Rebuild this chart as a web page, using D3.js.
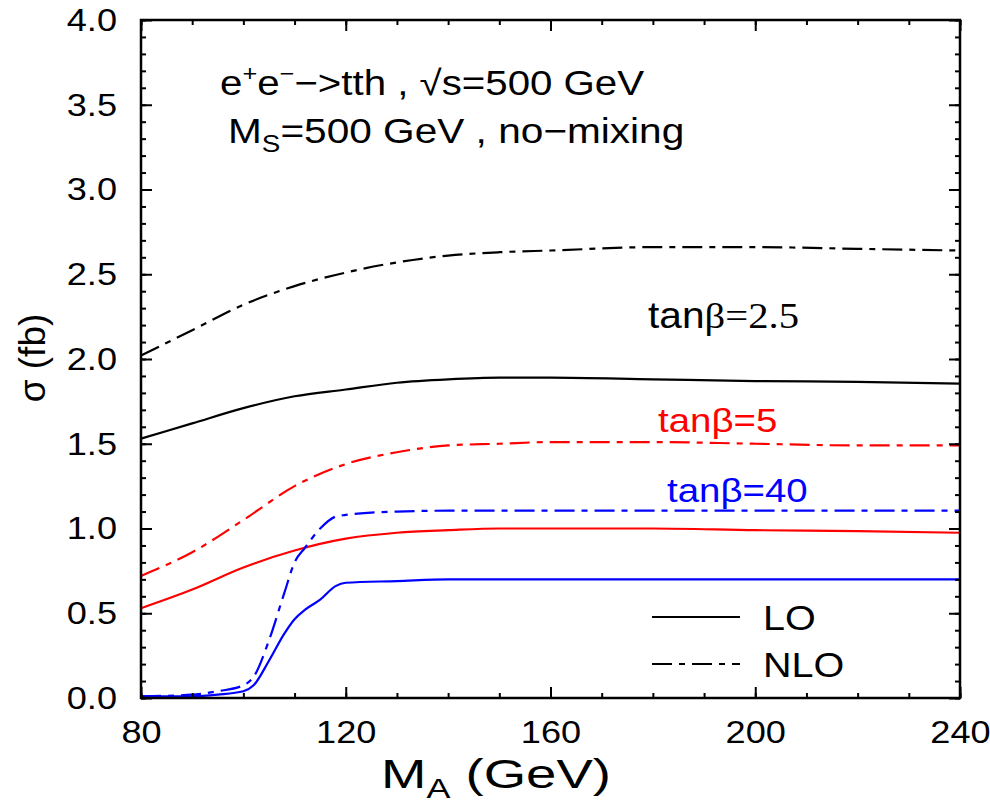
<!DOCTYPE html>
<html>
<head>
<meta charset="utf-8">
<script src="https://cdnjs.cloudflare.com/ajax/libs/d3/7.8.5/d3.min.js"></script>
<style>
    html, body { margin: 0; padding: 0; background: #fff; }
    svg text { font-family: "Liberation Sans", Arial, sans-serif; }
</style>
</head>
<body>
<div id="chart" style="width:990px;height:804px"></div>
<script>
// M_A grid (GeV) for tanb = 2.5 and 5
const massA = [80, 90, 100, 110, 120, 130, 140, 150, 160, 180, 200, 220, 240];
const tb25LO = [1.53, 1.62, 1.71, 1.78, 1.82, 1.86, 1.88, 1.89, 1.89, 1.88, 1.87, 1.865, 1.855];
const tb25NLO = [2.02, 2.17, 2.32, 2.43, 2.51, 2.57, 2.61, 2.63, 2.64, 2.66, 2.66, 2.65, 2.64];
const tb5LO = [0.53, 0.64, 0.77, 0.87, 0.94, 0.975, 0.99, 1.0, 1.0, 1.0, 0.99, 0.985, 0.975];
const tb5NLO = [0.72, 0.86, 1.05, 1.25, 1.38, 1.45, 1.49, 1.5, 1.51, 1.51, 1.5, 1.49, 1.49];

// tanb = 40 needs a finer grid around the threshold
const massA40 = [80, 90, 95, 100, 102, 105, 108, 110, 112, 115, 118, 120, 130, 140, 160, 200, 240];
const tb40LO = [0.01, 0.01, 0.02, 0.04, 0.075, 0.22, 0.38, 0.465, 0.52, 0.58, 0.66, 0.68, 0.69, 0.7, 0.7, 0.7, 0.7];
const tb40NLO = [0.01, 0.02, 0.04, 0.075, 0.125, 0.34, 0.62, 0.8, 0.885, 1.0, 1.07, 1.08, 1.1, 1.105, 1.105, 1.105, 1.105];

const xMajorTicks = [80, 120, 160, 200, 240];
const yMajorTicks = [0, 0.5, 1, 1.5, 2, 2.5, 3, 3.5, 4];

const series = [
    { x: massA, y: tb25LO, color: "#000", dash: null },
    { x: massA, y: tb25NLO, color: "#000", dash: "20,7,6,7" },
    { x: massA, y: tb5LO, color: "#ff0000", dash: null },
    { x: massA, y: tb5NLO, color: "#ff0000", dash: "20,7,6,7" },
    { x: massA40, y: tb40LO, color: "#0000ff", dash: null },
    { x: massA40, y: tb40NLO, color: "#0000ff", dash: "20,7,6,7" }
];

const margin = { left: 141, top: 20 },
    width = 819,
    height = 678,
    stretch = 1.13;

let svg = d3.select("#chart")
    .append("svg")
    .attr("width", 990)
    .attr("height", 804);

let g = svg.append("g")
    .attr("transform", `translate(${margin.left},${margin.top})`);

let x = d3.scaleLinear().domain([80, 240]).range([0, width]);
let y = d3.scaleLinear().domain([0, 4]).range([height, 0]);

// curves
let line = d3.line()
    .x(d => x(d[0]))
    .y(d => y(d[1]))
    .curve(d3.curveMonotoneX);

series.forEach(s => {
    g.append("path")
        .datum(s.x.map((v, i) => [v, s.y[i]]))
        .attr("d", line)
        .attr("fill", "none")
        .attr("stroke", s.color)
        .attr("stroke-width", 2.2)
        .attr("stroke-dasharray", s.dash);
});

// axes: ticks point inward on all four sides
function styleAxis(sel) {
    sel.select(".domain").remove();
    sel.selectAll("line").attr("stroke", "#000").attr("stroke-width", 2);
}

let xMinor = d3.range(80, 241, 10);
let yMinor = d3.range(0, 4.001, 0.1);

g.append("g").attr("transform", `translate(0,${height})`)
    .call(d3.axisBottom(x).tickValues(xMinor).tickSize(-5).tickFormat(""))
    .call(styleAxis);
g.append("g")
    .call(d3.axisTop(x).tickValues(xMinor).tickSize(-5).tickFormat(""))
    .call(styleAxis);
g.append("g")
    .call(d3.axisLeft(y).tickValues(yMinor).tickSize(-5).tickFormat(""))
    .call(styleAxis);
g.append("g").attr("transform", `translate(${width},0)`)
    .call(d3.axisRight(y).tickValues(yMinor).tickSize(-5).tickFormat(""))
    .call(styleAxis);

let xAxis = g.append("g").attr("transform", `translate(0,${height})`)
    .call(d3.axisBottom(x).tickValues(xMajorTicks).tickSize(-11).tickPadding(22).tickFormat(d3.format("d")))
    .call(styleAxis);
g.append("g")
    .call(d3.axisTop(x).tickValues(xMajorTicks).tickSize(-11).tickFormat(""))
    .call(styleAxis);
let yAxis = g.append("g")
    .call(d3.axisLeft(y).tickValues(yMajorTicks).tickSize(-11).tickPadding(24).tickFormat(d3.format(".1f")))
    .call(styleAxis);
g.append("g").attr("transform", `translate(${width},0)`)
    .call(d3.axisRight(y).tickValues(yMajorTicks).tickSize(-11).tickFormat(""))
    .call(styleAxis);

[xAxis, yAxis].forEach(a => {
    a.selectAll("text")
        .attr("font-size", 32)
        .attr("font-family", "Liberation Sans, Arial, sans-serif")
        .attr("fill", "#000")
        .attr("x", function () { return (+d3.select(this).attr("x") || 0) / stretch; })
        .attr("transform", `scale(${stretch},1)`);
});

// frame
g.append("rect")
    .attr("width", width)
    .attr("height", height)
    .attr("fill", "none")
    .attr("stroke", "#000")
    .attr("stroke-width", 2.5);

// text helper: horizontally stretched text at (px, py)
function label(px, py, size, color, sx) {
    return svg.append("text")
        .attr("transform", `translate(${px},${py}) scale(${sx || stretch},1)`)
        .attr("font-size", size)
        .attr("fill", color || "#000");
}

let t1 = label(220, 95, 35, "#000", 1.15);
t1.append("tspan").text("e");
t1.append("tspan").attr("dy", -14).attr("font-size", 22).text("+");
t1.append("tspan").attr("dy", 14).text("e");
t1.append("tspan").attr("dy", -14).attr("font-size", 22).text("\u2212");
t1.append("tspan").attr("dy", 14).text("\u2212>tth , \u221As=500 GeV");

let t2 = label(228, 143, 35, "#000", 1.16);
t2.append("tspan").text("M");
t2.append("tspan").attr("dy", 9).attr("font-size", 24).text("S");
t2.append("tspan").attr("dy", -9).text("=500 GeV , no\u2212mixing");

let t3 = label(648, 328, 36, "#000");
t3.append("tspan").text("tan");
t3.append("tspan").attr("font-family", "Liberation Serif, Times New Roman, serif").text("\u03B2=2.5");

label(658, 432, 34, "#ff0000").text("tan\u03B2=5");
label(667, 502, 34, "#0000ff").text("tan\u03B2=40");

// legend
const legendItems = [
    { name: "LO", dash: null, y: 617 },
    { name: "NLO", dash: "20,7,6,7", y: 664 }
];
legendItems.forEach(it => {
    svg.append("line")
        .attr("x1", 652).attr("x2", 740)
        .attr("y1", it.y).attr("y2", it.y)
        .attr("stroke", "#000")
        .attr("stroke-width", 2.2)
        .attr("stroke-dasharray", it.dash);
    label(763, it.y + 13, 35).text(it.name);
});

// axis titles
let xt = label(381, 788, 41, "#000", 1.33);
xt.append("tspan").text("M");
xt.append("tspan").attr("dy", 10).attr("font-size", 27).text("A");
xt.append("tspan").attr("dy", -10).text(" (GeV)");

svg.append("text")
    .attr("transform", "translate(45,358) rotate(-90)")
    .attr("text-anchor", "middle")
    .attr("font-size", 37)
    .text("\u03C3 (fb)");
</script>
</body>
</html>
